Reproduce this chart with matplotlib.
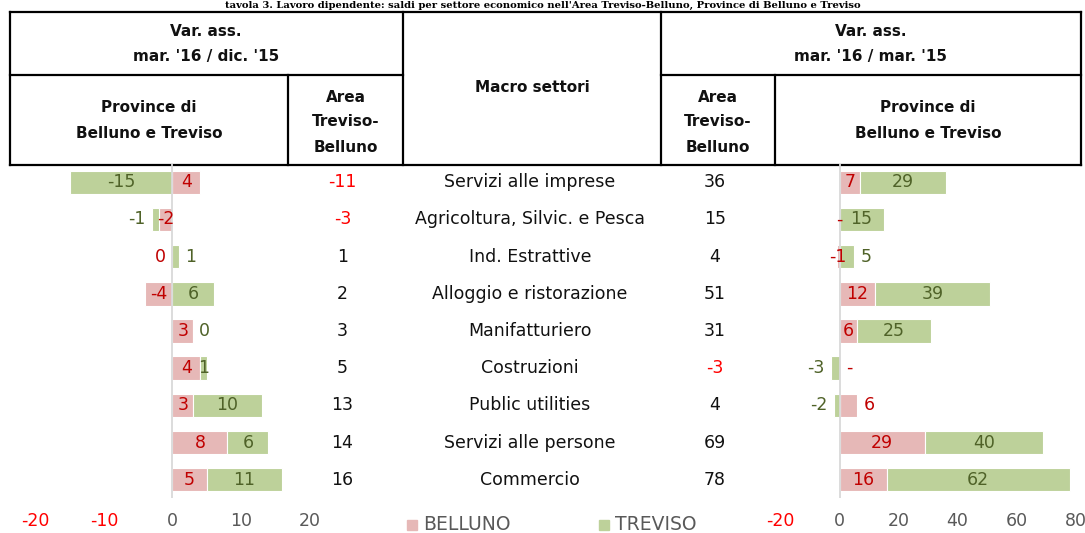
import numpy as np
import matplotlib
matplotlib.use("Agg")
import matplotlib.pyplot as plt
from matplotlib.patches import Rectangle
from matplotlib import transforms

plt.rcParams['font.family'] = ['DejaVu Sans']

# ---------------- data ----------------
sectors = ["Servizi alle imprese", "Agricoltura, Silvic. e Pesca", "Ind. Estrattive",
           "Alloggio e ristorazione", "Manifatturiero", "Costruzioni",
           "Public utilities", "Servizi alle persone", "Commercio"]
area_dic = [-11, -3, 1, 2, 3, 5, 13, 14, 16]      # Area Treviso-Belluno, mar.'16/dic.'15
area_mar = [36, 15, 4, 51, 31, -3, 4, 69, 78]     # Area Treviso-Belluno, mar.'16/mar.'15
belluno_dic = [4, -2, 0, -4, 3, 4, 3, 8, 5]
treviso_dic = [-15, -1, 1, 6, 0, 1, 10, 6, 11]
belluno_mar = [7, 0, -1, 12, 6, 0, 6, 29, 16]
treviso_mar = [29, 15, 5, 39, 25, -3, -2, 40, 62]
left_ticks = [-20, -10, 0, 10, 20]
right_ticks = [-20, 0, 20, 40, 60, 80]
series_names = ["BELLUNO", "TREVISO"]
title = "tavola 3. Lavoro dipendente: saldi per settore economico nell'Area Treviso-Belluno, Province di Belluno e Treviso"

# label placement style: c = centred, oR/oL = outside right/left of segment end
lbl_bel_dic = ['c', 'c', 'oL', 'c', 'c', 'c', 'c', 'c', 'c']
lbl_tre_dic = ['c', 'oL', 'oR', 'c', 'oR', 'c', 'c', 'c', 'c']
lbl_bel_mar = ['c', 'c', 'c', 'c', 'c', 'oR', 'oR', 'c', 'c']
lbl_tre_mar = ['c', 'c', 'oR', 'c', 'c', 'oL', 'oL', 'c', 'c']

# ---------------- style ----------------
W, H = 1085, 533
PINK = '#E6B8B7'
GREEN = '#BDD19A'
RED_LBL = '#C00000'
GREEN_LBL = '#4F6228'
NEG = '#FF0000'
GRAY = '#595959'
FS = 12.5

fig = plt.figure(figsize=(W / 100, H / 100), dpi=100)


def px_axes(x0, x1, y0, y1):
    return fig.add_axes([x0 / W, 1 - y1 / H, (x1 - x0) / W, (y1 - y0) / H])


# overlay in pixel coordinates
ax0 = fig.add_axes([0, 0, 1, 1])
ax0.set_xlim(0, W)
ax0.set_ylim(H, 0)
ax0.axis('off')
ax0.patch.set_alpha(0)

row_top, row_bot = 163.7, 498.3
n = len(sectors)


def make_chart(zero_px, k, lim, bel, tre, mb, mt, ticks, zero_text):
    ax = px_axes(zero_px + lim[0] * k, zero_px + lim[1] * k, row_top, row_bot)
    ax.set_xlim(*lim)
    ax.set_ylim(n - 0.5, -0.5)
    ax.patch.set_alpha(0)
    for s in ax.spines.values():
        s.set_visible(False)
    ax.set_yticks([])
    bel = np.array(bel, dtype=float)
    tre = np.array(tre, dtype=float)
    y = np.arange(n)
    tre_left = np.where((tre * bel > 0) | (tre == 0), bel, 0.0)
    ax.barh(y, bel, left=0, height=0.63, color=PINK, edgecolor='white', linewidth=0.8, zorder=2)
    ax.barh(y, tre, left=tre_left, height=0.63, color=GREEN, edgecolor='white', linewidth=0.8, zorder=2)
    ax.axvline(0, color='#D9D9D9', lw=1.3, zorder=3)

    def lab(start, v, mode, row, color):
        txt = zero_text if v == 0 else f"{int(v)}"
        end = start + v
        if mode == 'c':
            ax.annotate(txt, (start + v / 2, row), ha='center', va='center', color=color,
                        fontsize=FS, zorder=4)
        elif mode == 'oR':
            ax.annotate(txt, (end, row), xytext=(4.5, 0), textcoords='offset points',
                        ha='left', va='center', color=color, fontsize=FS, zorder=4)
        else:
            ax.annotate(txt, (end, row), xytext=(-4.5, 0), textcoords='offset points',
                        ha='right', va='center', color=color, fontsize=FS, zorder=4)

    for i in range(n):
        lab(0.0, bel[i], mb[i], i, RED_LBL)
        lab(tre_left[i], tre[i], mt[i], i, GREEN_LBL)

    ax.set_xticks(ticks)
    ax.set_xticklabels([str(t) for t in ticks])
    ax.tick_params(axis='x', length=0, pad=9.6, labelsize=FS)
    for t, lbl in zip(ticks, ax.get_xticklabels()):
        lbl.set_color(NEG if t < 0 else GRAY)
    return ax


axL = make_chart(172.5, 6.85, (-25, 23), belluno_dic, treviso_dic, lbl_bel_dic, lbl_tre_dic,
                 left_ticks, '0')
axR = make_chart(839.5, 2.95, (-22, 81), belluno_mar, treviso_mar, lbl_bel_mar, lbl_tre_mar,
                 right_ticks, '-')

# ---------------- header table ----------------
LW = 1.6
xl, xr, yt, ym, yb = 10, 1081, 11.5, 75, 164.5
segs = [((xl, xr), (yt, yt)), ((xl, xr), (yb, yb)),
        ((xl, xl), (yt, yb)), ((xr, xr), (yt, yb)),
        ((403, 403), (yt, yb)), ((661, 661), (yt, yb)),
        ((xl, 403), (ym, ym)), ((661, xr), (ym, ym)),
        ((288, 288), (ym, yb)), ((775, 775), (ym, yb))]
for xs, ys in segs:
    ax0.plot(xs, ys, color='black', lw=LW, solid_capstyle='projecting')

hb = dict(ha='center', va='center', fontsize=11, fontweight='bold', color='#111111')
ax0.text(206, 31, "Var. ass.", **hb)
ax0.text(206, 56.5, "mar. '16 / dic. '15", **hb)
ax0.text(871, 31, "Var. ass.", **hb)
ax0.text(871, 56.5, "mar. '16 / mar. '15", **hb)
ax0.text(149, 108, "Province di", **hb)
ax0.text(149, 134, "Belluno e Treviso", **hb)
ax0.text(928, 108, "Province di", **hb)
ax0.text(928, 134, "Belluno e Treviso", **hb)
for cx in (345.5, 718):
    ax0.text(cx, 97, "Area", **hb)
    ax0.text(cx, 122, "Treviso-", **hb)
    ax0.text(cx, 147, "Belluno", **hb)
ax0.text(532, 88, "Macro settori", **hb)

# title line squeezed above the table
ax0.text(W / 2, 1.0, title, ha='center', va='top', fontsize=7.2, fontweight='bold',
         family='DejaVu Serif', color='black')

# ---------------- middle columns ----------------
tr = transforms.blended_transform_factory(ax0.transData, axL.transData)
for i in range(n):
    ax0.text(342.5, i, f"{area_dic[i]}", transform=tr, ha='center', va='center', fontsize=FS,
             color=NEG if area_dic[i] < 0 else '#111111')
    ax0.text(530, i, sectors[i], transform=tr, ha='center', va='center', fontsize=FS, color='#111111')
    ax0.text(715, i, f"{area_mar[i]}", transform=tr, ha='center', va='center', fontsize=FS,
             color=NEG if area_mar[i] < 0 else '#111111')

# ---------------- legend ----------------
for (sx, tx), name, col in zip([(407, 423), (599, 615)], series_names, [PINK, GREEN]):
    ax0.add_patch(Rectangle((sx, 519.5), 10, 10, color=col))
    ax0.text(tx, 525, name, ha='left', va='center', fontsize=13.5, color=GRAY)

fig.savefig("out.png", dpi=100)
